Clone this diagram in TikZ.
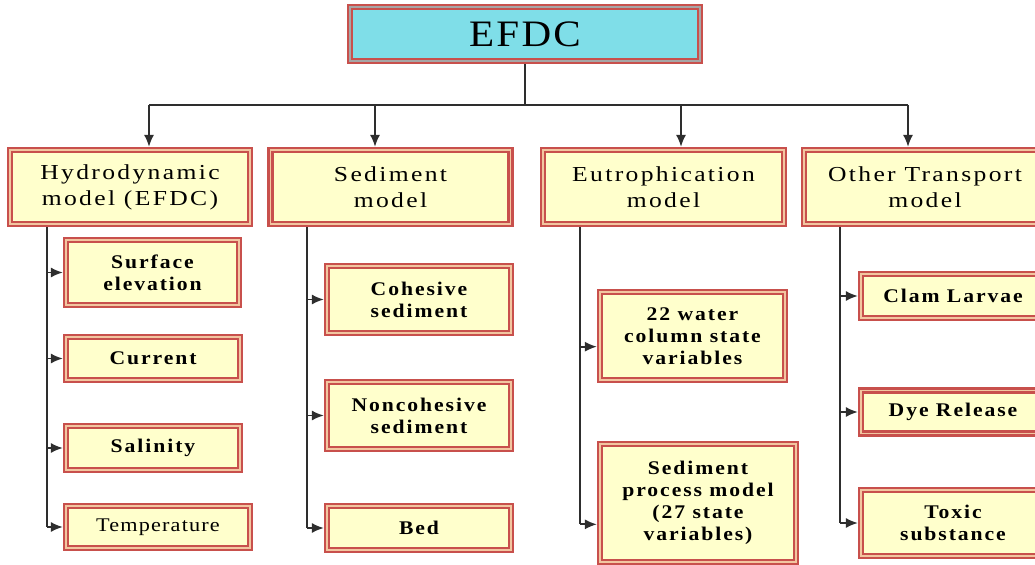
\documentclass[tikz,border=0pt]{standalone}
\usepackage{fontspec}
\setmainfont{Liberation Serif}
\newfontfamily\efont[FakeStretch=1.1,LetterSpace=6]{Liberation Serif}
\newfontfamily\tfont[FakeStretch=1.2,LetterSpace=11]{Liberation Serif}
\newfontfamily\cfont[FakeStretch=1.12,LetterSpace=10]{Liberation Serif}
\newfontfamily\rfont[FakeStretch=1.15,LetterSpace=6]{Liberation Serif}
\usetikzlibrary{arrows.meta}
\definecolor{bred}{HTML}{C8504C}
\definecolor{peach}{HTML}{F2C6A0}
\definecolor{yel}{HTML}{FFFFCC}
\definecolor{cyanf}{HTML}{7FDEE8}
\definecolor{lin}{HTML}{2E2E2E}
\begin{document}
\begin{tikzpicture}[x=0.75pt,y=-0.75pt,
  sz/.style 2 args={minimum width=#1*0.75pt, minimum height=#2*0.75pt},
  box/.style={rectangle, fill=yel, draw=bred, line width=1.8pt, double=peach, double distance=1pt, outer sep=2.3pt, inner sep=0pt, align=center},
  topbox/.style={rectangle, fill=cyanf, draw=bred, line width=1.8pt, double=gray!70, double distance=1pt, outer sep=2.3pt, inner sep=0pt, align=center, font=\efont\fontsize{28}{32}\selectfont},
  lvl/.style={box, font=\tfont\fontsize{16}{19.5}\selectfont},
  kid/.style={box, font=\cfont\bfseries\fontsize{14.5}{16.5}\selectfont},
  link/.style={draw=lin, line width=1.3pt},
  arr/.style={link, -{Latex[length=9pt,width=7.5pt]}}
]
\useasboundingbox (0,0) rectangle (1035,564);

% top
\node[topbox, sz={350}{54}] (efdc) at (525,34) {EFDC};

% level 2
\node[lvl, sz={240}{74}] (hydro) at (130,187) {Hydrodynamic\\model (EFDC)};
\node[lvl, sz={240}{74}] (sed) at (390.5,187) {Sediment\\model};
\node[lvl, sz={241}{74}] (eut) at (663.5,187) {Eutrophication\\model};
\node[lvl, sz={242}{74}] (oth) at (925,187) {Other Transport\\model};

% hydro children
\node[kid, sz={173}{65}] (surf) at (152.5,272.5) {Surface\\elevation};
\node[kid, sz={174}{43}] (cur) at (153,358.5) {Current};
\node[kid, sz={174}{44}] (sal) at (153,448) {Salinity};
\node[box, sz={184}{42}, font=\rfont\fontsize{14.5}{16.5}\selectfont] (temp) at (158,527) {Temperature};

% sediment children
\node[kid, sz={184}{67}] (coh) at (419,299.5) {Cohesive\\sediment};
\node[kid, sz={184}{67}] (non) at (419,415.5) {Noncohesive\\sediment};
\node[kid, sz={184}{44}] (bed) at (419,528) {Bed};

% eutrophication children
\node[kid, sz={185}{88}] (wat) at (692.5,336) {22 water\\column state\\variables};
\node[kid, sz={196}{118}] (spm) at (698,503) {Sediment\\process model\\(27 state\\variables)};

% other transport children
\node[kid, sz={184}{44}] (clam) at (953,296) {Clam Larvae};
\node[kid, sz={184}{43}] (dye) at (953,412) {Dye Release};
\node[kid, sz={184}{66}] (tox) at (953,523) {Toxic\\substance};

% junctions
\coordinate (jh) at (149,105);
\coordinate (js) at (375,105);
\coordinate (je) at (681,105);
\coordinate (jo) at (908,105);
\coordinate (xh) at (47,0);
\coordinate (xs) at (307,0);
\coordinate (xe) at (580,0);
\coordinate (xo) at (840,0);

\draw[link] (efdc.south) -- (efdc.south |- jh);
\draw[link] (jh) -- (jo);
\draw[arr] (jh) -- (jh |- hydro.north);
\draw[arr] (js) -- (js |- sed.north);
\draw[arr] (je) -- (je |- eut.north);
\draw[arr] (jo) -- (jo |- oth.north);

% spines
\draw[link] (hydro.south -| xh) -- (xh |- temp.west);
\draw[arr] (xh |- surf.west) -- (surf.west);
\draw[arr] (xh |- cur.west) -- (cur.west);
\draw[arr] (xh |- sal.west) -- (sal.west);
\draw[arr] (xh |- temp.west) -- (temp.west);

\draw[link] (sed.south -| xs) -- (xs |- bed.west);
\draw[arr] (xs |- coh.west) -- (coh.west);
\draw[arr] (xs |- non.west) -- (non.west);
\draw[arr] (xs |- bed.west) -- (bed.west);

\draw[link] (eut.south -| xe) -- ([yshift=-16pt]xe |- spm.west);
\draw[arr] ([yshift=-8pt]xe |- wat.west) -- ([yshift=-8pt]wat.west);
\draw[arr] ([yshift=-16pt]xe |- spm.west) -- ([yshift=-16pt]spm.west);

\draw[link] (oth.south -| xo) -- (xo |- tox.west);
\draw[arr] (xo |- clam.west) -- (clam.west);
\draw[arr] (xo |- dye.west) -- (dye.west);
\draw[arr] (xo |- tox.west) -- (tox.west);
\end{tikzpicture}
\end{document}
